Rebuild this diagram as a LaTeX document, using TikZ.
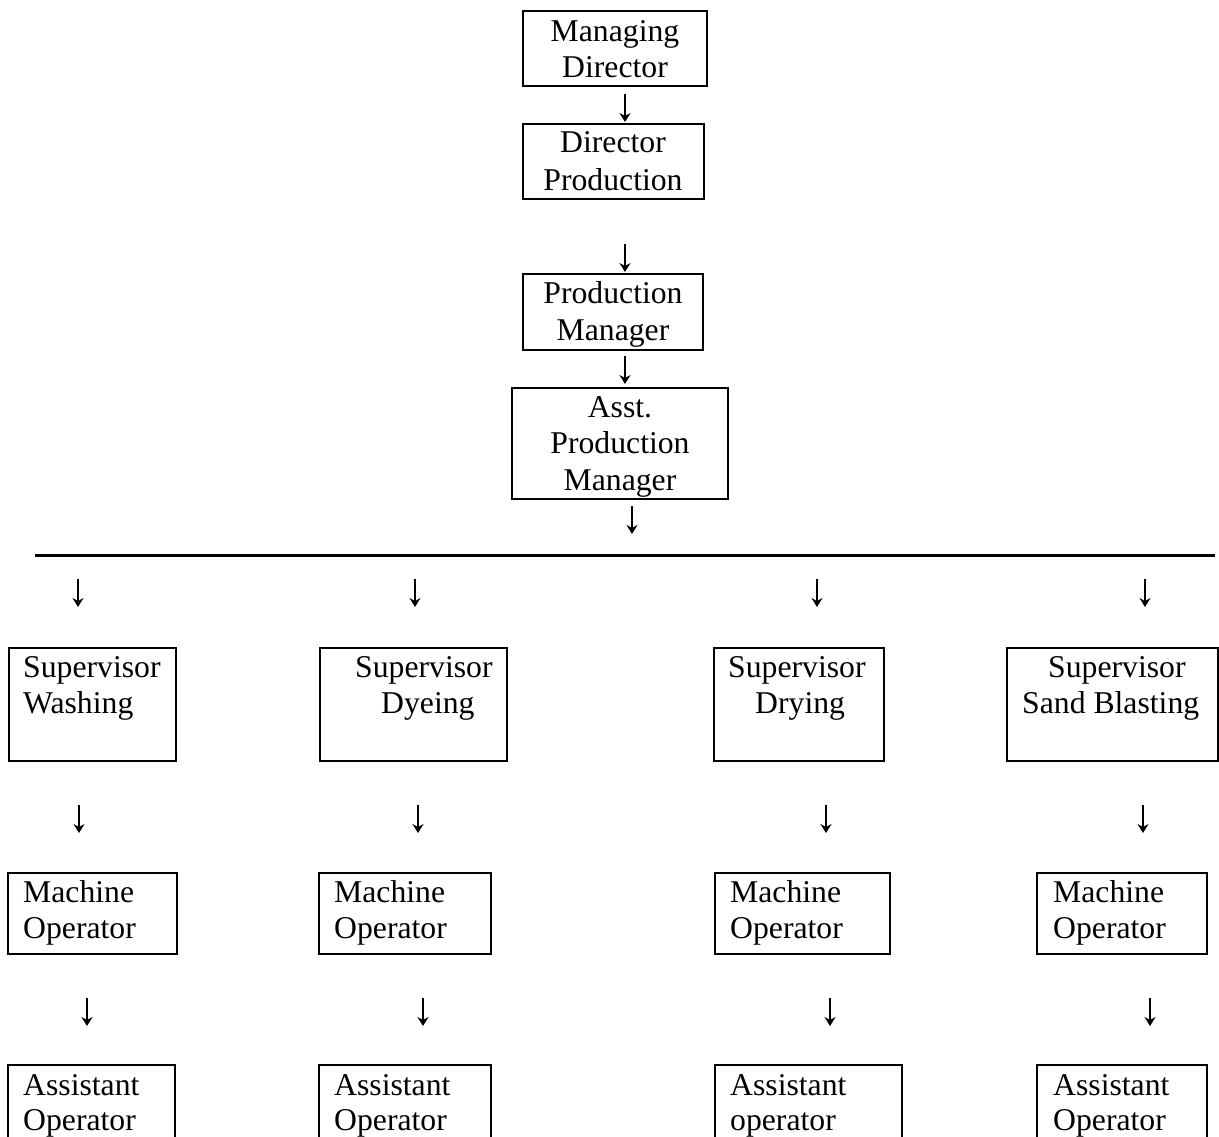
\documentclass[tikz,border=0pt]{standalone}
\usepackage{fontspec}
\setmainfont{Liberation Serif}
\usetikzlibrary{arrows.meta}
\newcommand{\darr}[3]{%
  \coordinate (#1t) at (#2,#3-14);
  \coordinate (#1b) at (#2,#3+14);
  \draw[downarr] (#1t) -- (#1b);}
\begin{document}
\begin{tikzpicture}[x=1pt,y=-1pt,
  box/.style={draw,line width=2pt},
  txt/.style={inner sep=0pt,anchor=base},
  txtl/.style={inner sep=0pt,anchor=base west},
  downarr/.style={line width=1.4pt,-{Stealth[length=9pt,width=11pt,inset=3pt]}},
  font=\fontsize{31.7}{37}\selectfont]
\useasboundingbox (0,0) rectangle (1219,1137);
\begin{scope}
\clip (0,0) rectangle (1219,1137);
% top boxes
\draw[box] (523,11) rectangle (707,86) coordinate (md);
\node[txt] (md1) at (615,42) {Managing};
\node[txt] (md2) at (615,78) {Director};
\darr{a1}{625}{108}
\draw[box] (523,124) rectangle (704,199) coordinate (dp);
\node[txt] (dp1) at (613,153) {Director};
\node[txt] (dp2) at (613,190) {Production};
\darr{a2}{625}{258}
\draw[box] (523,274) rectangle (703,350) coordinate (pm);
\node[txt] (pm1) at (613,303) {Production};
\node[txt] (pm2) at (613,340) {Manager};
\darr{a3}{625}{370}
\draw[box] (512,388) rectangle (728,499) coordinate (apm);
\node[txt] (apm1) at (620,417) {Asst.};
\node[txt] (apm2) at (620,453) {Production};
\node[txt] (apm3) at (620,490) {Manager};
\darr{a4}{632}{520}
% horizontal line
\coordinate (hl) at (35,555);
\coordinate (hr) at (1215,555);
\draw[line width=3pt] (hl) -- (hr);
% first row arrows
\darr{b1}{78}{593}
\darr{b2}{415}{593}
\darr{b3}{817}{593}
\darr{b4}{1145}{593}
% supervisors
\draw[box] (9,648) rectangle (176,761) coordinate (sw);
\node[txtl] (sw1) at (23,677) {Supervisor};
\node[txtl] (sw2) at (23,713) {Washing};
\draw[box] (320,648) rectangle (507,761) coordinate (sd);
\node[txtl] (sd1) at (355,677) {Supervisor};
\node[txtl] (sd2) at (381,713) {Dyeing};
\draw[box] (714,648) rectangle (884,761) coordinate (sr);
\node[txtl] (sr1) at (728,677) {Supervisor};
\node[txtl] (sr2) at (755,713) {Drying};
\draw[box] (1007,648) rectangle (1218,761) coordinate (ss);
\node[txtl] (ss1) at (1048,677) {Supervisor};
\node[txtl] (ss2) at (1022,713) {Sand Blasting};
% second row arrows
\darr{c1}{79}{819}
\darr{c2}{418}{819}
\darr{c3}{826}{819}
\darr{c4}{1143}{819}
% machine operators
\draw[box] (8,873) rectangle (177,954) coordinate (m1);
\node[txtl] (m1a) at (23,902) {Machine};
\node[txtl] (m1b) at (23,938) {Operator};
\draw[box] (319,873) rectangle (491,954) coordinate (m2);
\node[txtl] (m2a) at (334,902) {Machine};
\node[txtl] (m2b) at (334,938) {Operator};
\draw[box] (715,873) rectangle (890,954) coordinate (m3);
\node[txtl] (m3a) at (730,902) {Machine};
\node[txtl] (m3b) at (730,938) {Operator};
\draw[box] (1037,873) rectangle (1207,954) coordinate (m4);
\node[txtl] (m4a) at (1053,902) {Machine};
\node[txtl] (m4b) at (1053,938) {Operator};
% third row arrows
\darr{d1}{87}{1012}
\darr{d2}{423}{1012}
\darr{d3}{830}{1012}
\darr{d4}{1150}{1012}
% assistant operators
\draw[box] (8,1065) rectangle (175,1160) coordinate (o1);
\node[txtl] (o1a) at (23,1095) {Assistant};
\node[txtl] (o1b) at (23,1130) {Operator};
\draw[box] (319,1065) rectangle (491,1160) coordinate (o2);
\node[txtl] (o2a) at (334,1095) {Assistant};
\node[txtl] (o2b) at (334,1130) {Operator};
\draw[box] (715,1065) rectangle (902,1160) coordinate (o3);
\node[txtl] (o3a) at (730,1095) {Assistant};
\node[txtl] (o3b) at (730,1130) {operator};
\draw[box] (1037,1065) rectangle (1207,1160) coordinate (o4);
\node[txtl] (o4a) at (1053,1095) {Assistant};
\node[txtl] (o4b) at (1053,1130) {Operator};
\end{scope}
\end{tikzpicture}
\end{document}
